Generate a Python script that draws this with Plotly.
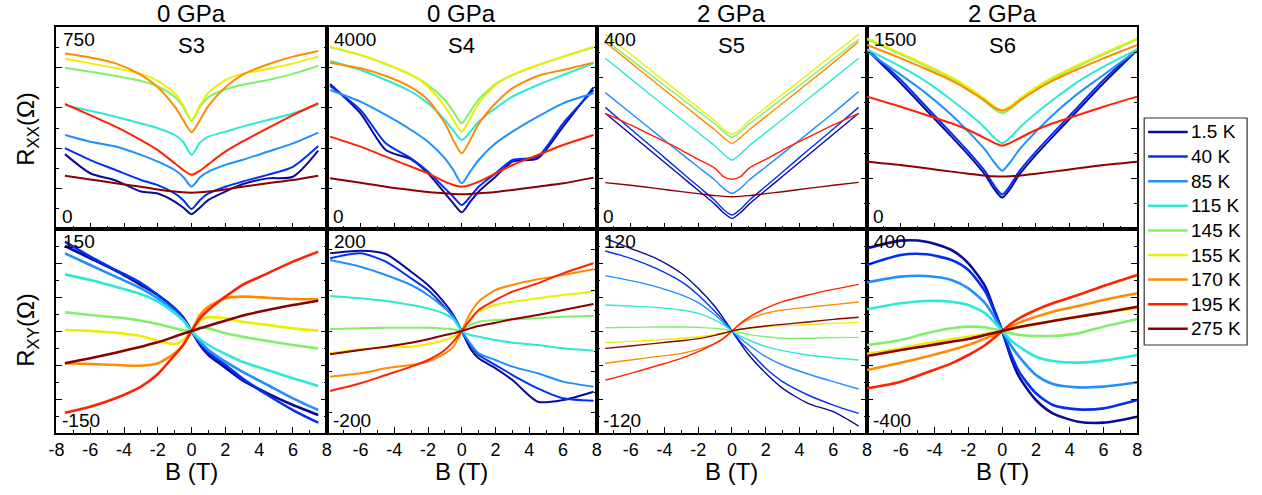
import plotly.graph_objects as go

# ---------------------------------------------------------------- data
TEMPS = ["1.5 K", "40 K", "85 K", "115 K", "145 K", "155 K", "170 K", "195 K", "275 K"]
COLORS = ["#0a0a9a", "#0030f5", "#1e90ff", "#2ee8d6", "#7ef06a",
          "#eeee00", "#ff8c00", "#ff2200", "#8b0000"]

PRESSURES = ["0 GPa", "0 GPa", "2 GPa", "2 GPa"]
SAMPLES = ["S3", "S4", "S5", "S6"]

# magnetic field grids (T)
B_S3 = [-7.5, -6, -4.5, -3, -2, -1, -0.5, 0, 0.5, 1, 2, 3, 4.5, 6, 7.5]
B_S4 = [-7.8, -6, -4.5, -3, -2, -1, -0.5, 0, 0.5, 1, 2, 3, 4.5, 6, 7.8]
B_S5 = [-7.5, -6, -4.5, -3, -2, -1, -0.5, 0, 0.5, 1, 2, 3, 4.5, 6, 7.5]
B_S6 = [-8, -6, -4.5, -3, -2, -1, -0.5, 0, 0.5, 1, 2, 3, 4.5, 6, 8]

# longitudinal resistance R_xx (Ohm), rows in TEMPS order
RXX_S3 = [
    [278, 207, 180, 139, 132, 102, 80, 55, 80, 108, 139, 166, 188, 194, 291],
    [300, 256, 219, 182, 163, 132, 108, 74, 108, 132, 157, 176, 201, 231, 308],
    [349, 324, 306, 275, 250, 219, 194, 157, 192, 213, 238, 256, 287, 318, 358],
    [460, 439, 417, 392, 374, 349, 324, 275, 321, 343, 361, 380, 405, 429, 463],
    [599, 584, 568, 550, 529, 491, 454, 402, 454, 489, 519, 535, 553, 576, 606],
    [632, 615, 597, 576, 550, 504, 460, 405, 460, 506, 553, 576, 594, 615, 640],
    [652, 637, 615, 572, 526, 454, 405, 359, 405, 457, 526, 572, 611, 640, 661],
    [464, 423, 380, 330, 293, 244, 219, 201, 217, 241, 287, 324, 374, 423, 467],
    [198, 184, 170, 157, 147, 139, 136, 135, 136, 139, 147, 157, 170, 182, 198],
]
RXX_S4 = [
    [2871, 2291, 1564, 1380, 1102, 706, 508, 330, 541, 739, 1036, 1333, 1399, 2027, 2805],
    [2832, 2357, 1696, 1399, 1135, 805, 640, 475, 640, 838, 1102, 1366, 1432, 2093, 2753],
    [2753, 2522, 2258, 1961, 1729, 1399, 1168, 904, 1135, 1366, 1696, 1927, 2225, 2489, 2687],
    [3327, 3149, 2951, 2720, 2489, 2159, 1947, 1762, 1927, 2126, 2390, 2621, 2852, 3050, 3281],
    [3598, 3446, 3268, 3050, 2852, 2555, 2324, 2093, 2324, 2568, 2872, 3050, 3241, 3413, 3598],
    [3611, 3446, 3268, 3050, 2819, 2423, 2159, 1927, 2192, 2489, 2852, 3050, 3248, 3413, 3611],
    [3294, 3182, 3030, 2806, 2555, 2093, 1762, 1498, 1762, 2079, 2489, 2786, 3030, 3149, 3294],
    [1829, 1630, 1432, 1234, 1102, 937, 871, 838, 871, 937, 1102, 1267, 1465, 1663, 1861],
    [1003, 918, 838, 772, 733, 706, 693, 687, 693, 706, 733, 772, 838, 904, 1017],
]
RXX_S5 = [
    [229.1, 187.5, 145.9, 104.3, 76.6, 48.8, 32.3, 21.1, 32.3, 48.8, 76.6, 104.3, 145.9, 187.5, 229.1],
    [240.9, 198.0, 155.8, 112.9, 84.5, 56.1, 38.9, 27.7, 38.9, 56.1, 84.5, 112.9, 155.8, 198.0, 240.9],
    [270.0, 229.7, 189.4, 149.2, 122.8, 96.4, 80.5, 70.6, 80.5, 96.4, 122.8, 149.2, 189.4, 229.7, 272.0],
    [338.0, 297.7, 257.4, 217.2, 190.8, 164.4, 148.5, 136.6, 148.5, 164.4, 190.8, 217.2, 257.4, 297.7, 338.0],
    [374.3, 336.0, 297.0, 258.8, 233.0, 207.3, 192.7, 181.5, 192.7, 207.3, 233.0, 258.8, 297.0, 336.0, 375.6],
    [385.5, 345.9, 306.3, 266.7, 240.3, 213.9, 197.4, 187.5, 197.4, 213.9, 240.3, 266.7, 306.3, 345.9, 385.5],
    [369.7, 329.4, 289.1, 248.9, 222.5, 196.1, 180.9, 169.6, 180.9, 196.1, 222.5, 248.9, 289.1, 329.4, 371.0],
    [229.1, 206.0, 181.5, 156.4, 138.0, 120.1, 103.6, 98.4, 103.6, 120.1, 138.0, 156.4, 181.5, 206.0, 229.1],
    [91.8, 86.5, 80.5, 73.9, 70.0, 66.0, 64.7, 64.0, 64.7, 66.0, 70.0, 73.9, 80.5, 86.5, 92.4],
]
RXX_S6 = [
    [1329, 1082, 884, 686, 550, 401, 302, 233, 302, 401, 550, 686, 884, 1082, 1329],
    [1334, 1106, 908, 710, 574, 426, 327, 257, 327, 426, 574, 710, 908, 1106, 1334],
    [1317, 1144, 1007, 847, 723, 587, 500, 433, 500, 587, 723, 847, 1007, 1144, 1329],
    [1334, 1205, 1094, 958, 859, 748, 681, 636, 681, 748, 859, 958, 1094, 1205, 1334],
    [1408, 1297, 1210, 1116, 1040, 946, 894, 859, 894, 946, 1040, 1116, 1210, 1297, 1408],
    [1416, 1304, 1218, 1126, 1052, 963, 913, 884, 913, 963, 1052, 1126, 1218, 1304, 1416],
    [1366, 1267, 1188, 1102, 1032, 951, 903, 879, 903, 951, 1032, 1102, 1188, 1267, 1366],
    [983, 908, 847, 785, 735, 673, 641, 619, 641, 673, 735, 785, 847, 908, 983],
    [500, 475, 451, 426, 411, 396, 391, 389, 391, 396, 411, 426, 451, 475, 500],
]

# Hall resistance R_xy (Ohm), rows in TEMPS order
RXY_S3 = [
    [125.0, 106.9, 88.7, 67.6, 52.9, 33.3, 20.1, 0, -20.6, -35.3, -53.9, -72.1, -91.7, -108.8, -123.5],
    [131.4, 109.3, 89.7, 70.6, 52.9, 32.8, 18.6, 0, -18.1, -31.9, -50.0, -69.6, -94.1, -116.2, -134.8],
    [114.2, 97.1, 79.9, 62.7, 48.0, 28.4, 16.2, 0, -15.7, -27.9, -45.1, -59.8, -79.4, -99.0, -116.2],
    [83.3, 75.0, 65.2, 54.4, 43.1, 26.0, 15.2, 0, -12.3, -20.6, -33.8, -45.1, -57.4, -69.6, -80.9],
    [27.5, 23.5, 20.1, 15.2, 10.3, 3.9, 1.5, 0, 4.9, 3.9, -3.4, -8.3, -14.7, -20.6, -25.5],
    [1.5, 0, -2.5, -7.4, -14.2, -19.1, -13.2, 0, 15.2, 20.1, 18.6, 13.7, 8.8, 3.9, 0.5],
    [-47.5, -48.5, -50.0, -51.0, -47.5, -32.8, -20.6, 0, 23.5, 35.8, 48.0, 50.5, 49.0, 47.1, 46.6],
    [-120.1, -111.3, -99.0, -81.9, -63.2, -35.3, -20.6, 0, 18.6, 30.9, 50.5, 67.6, 84.8, 102.0, 116.7],
    [-47.5, -40.2, -31.9, -23.0, -16.7, -8.3, -3.9, 0, 3.9, 7.8, 15.2, 22.5, 30.9, 38.2, 44.6],
]
RXY_S4 = [
    [152.3, 157.5, 151.0, 116.3, 90.2, 54.2, 31.4, 0, -34.0, -53.6, -73.2, -96.1, -138.6, -135.3, -119.0],
    [142.5, 152.3, 135.9, 103.3, 80.4, 46.4, 26.8, 0, -27.5, -47.1, -66.7, -86.3, -112.4, -132.0, -136.6],
    [139.2, 126.1, 109.8, 90.2, 70.6, 44.4, 28.1, 0, -24.2, -43.8, -56.9, -69.9, -83.0, -99.3, -109.2],
    [68.6, 64.1, 58.8, 51.0, 44.4, 33.3, 22.9, 0, -7.8, -11.1, -17.6, -22.9, -27.5, -34.0, -38.6],
    [3.9, 5.2, 6.5, 6.5, 6.5, 4.6, 3.3, 0, 11.8, 18.3, 21.6, 22.9, 24.8, 28.1, 29.4],
    [-43.8, -35.9, -32.0, -30.7, -25.5, -17.6, -11.1, 0, 24.8, 37.9, 51.0, 57.5, 64.1, 70.6, 77.1],
    [-89.5, -83.0, -73.2, -66.7, -60.1, -43.8, -30.7, 0, 34.6, 57.5, 80.4, 90.2, 101.3, 109.8, 120.9],
    [-117.6, -102.6, -86.3, -69.9, -56.9, -37.3, -20.9, 0, 21.6, 41.2, 60.8, 77.1, 93.5, 113.1, 132.7],
    [-45.8, -37.3, -30.7, -22.9, -16.3, -7.8, -4.6, 0, 5.2, 9.8, 16.3, 22.9, 31.4, 41.2, 52.9],
]
RXY_S5 = [
    [109.0, 97.3, 85.5, 67.9, 50.2, 28.6, 14.9, 0, -14.5, -28.2, -49.8, -67.5, -85.1, -94.9, -111.8],
    [94.1, 85.5, 73.7, 58.0, 42.4, 22.7, 12.2, 0, -12.6, -23.1, -43.9, -59.6, -75.3, -87.1, -96.9],
    [65.1, 59.2, 52.2, 42.4, 33.3, 18.8, 9.8, 0, -8.6, -16.5, -30.2, -40.0, -50.6, -59.6, -68.2],
    [30.6, 29.4, 27.8, 24.7, 20.8, 12.9, 7.1, 0, -5.9, -10.6, -18.4, -23.1, -28.2, -31.4, -34.1],
    [3.9, 4.3, 4.7, 4.7, 4.3, 3.1, 2.0, 0, -2.0, -3.9, -6.7, -8.6, -8.6, -7.8, -7.5],
    [-13.7, -12.2, -10.6, -8.6, -6.7, -3.9, -2.0, 0, 2.0, 3.1, 5.1, 6.3, 7.5, 9.0, 10.2],
    [-38.0, -34.1, -30.2, -26.3, -21.6, -14.5, -8.6, 0, 8.2, 13.7, 20.8, 24.7, 27.8, 31.0, 34.1],
    [-57.7, -49.8, -41.2, -32.2, -24.3, -14.5, -8.6, 0, 9.0, 16.1, 26.7, 34.5, 42.4, 49.0, 54.9],
    [-20.4, -17.6, -14.5, -11.4, -9.0, -5.1, -2.7, 0, 2.0, 3.5, 5.9, 7.8, 10.6, 13.7, 16.1],
]
RXY_S6 = [
    [324.2, 354.3, 350.3, 317.6, 265.4, 173.9, 88.9, 0, -100.7, -179.1, -270.6, -322.9, -355.6, -359.5, -336.0],
    [258.8, 298.0, 300.7, 278.4, 239.2, 154.2, 82.4, 0, -87.6, -159.5, -244.4, -290.2, -307.2, -303.3, -270.6],
    [190.9, 213.1, 215.7, 200.0, 167.3, 108.5, 58.8, 0, -54.9, -100.7, -172.6, -207.8, -220.9, -218.3, -201.3],
    [85.0, 108.5, 117.6, 115.0, 102.0, 69.3, 36.6, 0, -35.3, -61.4, -100.7, -117.6, -124.2, -116.3, -94.1],
    [-54.9, -35.3, -9.2, 10.5, 17.0, 14.4, 7.8, 0, -9.2, -15.7, -19.6, -19.6, -9.2, 17.0, 45.8],
    [-90.2, -68.0, -48.4, -32.7, -22.2, -11.8, -5.2, 0, 7.8, 14.4, 27.5, 40.5, 56.2, 71.9, 88.9],
    [-152.9, -124.2, -100.7, -74.5, -54.9, -28.8, -15.7, 0, 17.0, 32.7, 56.2, 75.8, 98.0, 121.6, 147.7],
    [-224.8, -198.7, -163.4, -126.8, -94.1, -54.9, -28.8, 0, 27.5, 49.7, 82.4, 108.5, 141.2, 176.5, 219.6],
    [-98.0, -74.5, -58.8, -41.8, -31.4, -15.7, -7.8, 0, 7.8, 15.7, 27.5, 39.2, 56.2, 71.9, 95.4],
]

# axis ranges and tick spacing per panel: (low, high, minor step)
RXX_AXES = [(0, 750, 75), (0, 4000, 400), (0, 400, 50), (0, 1500, 187.5)]
RXY_AXES = [(-150, 150, 25), (-200, 200, 40), (-120, 120, 20), (-400, 400, 200 / 3)]
RXX_LABELS = [("750", "0"), ("4000", "0"), ("400", "0"), ("1500", "0")]
RXY_LABELS = [("150", "-150"), ("200", "-200"), ("120", "-120"), ("400", "-400")]

# ---------------------------------------------------------------- layout
FONT = "Liberation Sans, Arial, sans-serif"
W, H = 1262, 495
LEFT, PANEL_W = 49, 273
ROW_TOP, ROW_MID, ROW_BOT = 27, 229, 433

B_GRIDS = [B_S3, B_S4, B_S5, B_S6]
RXX = [RXX_S3, RXX_S4, RXX_S5, RXX_S6]
RXY = [RXY_S3, RXY_S4, RXY_S5, RXY_S6]
RXX_WIDTH = [2.0, 2.0, 1.4, 2.0]
RXY_WIDTH = [2.6, 2.0, 1.4, 2.6]

fig = go.Figure()
layout = dict(
    width=W, height=H, margin=dict(l=0, r=0, t=0, b=0),
    paper_bgcolor="white", plot_bgcolor="white",
    font=dict(family=FONT, color="black"),
    showlegend=False,
)
annotations = []
shapes = []


def x_domain(col):
    return [(LEFT + PANEL_W * col) / W, (LEFT + PANEL_W * (col + 1)) / W]


for row in range(2):
    for col in range(4):
        n = row * 4 + col + 1
        xa = "xaxis" if n == 1 else f"xaxis{n}"
        ya = "yaxis" if n == 1 else f"yaxis{n}"
        xr = "x" if n == 1 else f"x{n}"
        yr = "y" if n == 1 else f"y{n}"

        if row == 0:
            ydom = [1 - ROW_MID / H, 1 - ROW_TOP / H]
            lo, hi, step = RXX_AXES[col]
            curves = RXX[col]
            width = RXX_WIDTH[col]
            top_lbl, bot_lbl = RXX_LABELS[col]
        else:
            ydom = [1 - ROW_BOT / H, 1 - ROW_MID / H]
            lo, hi, step = RXY_AXES[col]
            curves = RXY[col]
            width = RXY_WIDTH[col]
            top_lbl, bot_lbl = RXY_LABELS[col]

        xticks = list(range(-8, 9, 2)) if col == 0 else list(range(-6, 9, 2))
        layout[xa] = dict(
            domain=x_domain(col), anchor=yr, range=[-8, 8],
            showline=True, linecolor="black", linewidth=1.5, mirror=True,
            ticks="inside", ticklen=6, tickwidth=1, tickcolor="black",
            tickvals=list(range(-8, 9, 2)),
            ticktext=[str(v) if v in xticks else "" for v in range(-8, 9, 2)],
            showticklabels=(row == 1),
            tickfont=dict(size=18, family=FONT, color="black"),
            minor=dict(dtick=1, tick0=0, ticks="inside", ticklen=3, tickcolor="black"),
            showgrid=False, zeroline=False, fixedrange=True,
        )
        layout[ya] = dict(
            domain=ydom, anchor=xr, range=[lo, hi],
            showline=True, linecolor="black", linewidth=1.5, mirror="ticks",
            ticks="inside", ticklen=6, tickwidth=1, tickcolor="black",
            tick0=0, dtick=2 * step, showticklabels=False,
            minor=dict(dtick=step, tick0=0, ticks="inside", ticklen=3, tickcolor="black"),
            showgrid=False, zeroline=False, fixedrange=True,
        )

        for k, values in enumerate(curves):
            fig.add_trace(go.Scatter(
                x=B_GRIDS[col], y=values, xaxis=xr, yaxis=yr,
                mode="lines", name=TEMPS[k],
                line=dict(color=COLORS[k], width=width, shape="spline", smoothing=0.7),
                hoverinfo="skip",
            ))

        # range labels in the panel corners
        annotations.append(dict(
            text=top_lbl, xref=f"{xr} domain", yref=f"{yr} domain", x=0, y=1,
            xanchor="left", yanchor="top", xshift=5, yshift=0, showarrow=False,
            font=dict(size=19, family=FONT, color="black"),
        ))
        annotations.append(dict(
            text=bot_lbl, xref=f"{xr} domain", yref=f"{yr} domain", x=0, y=0,
            xanchor="left", yanchor="bottom", xshift=4, yshift=0, showarrow=False,
            font=dict(size=19, family=FONT, color="black"),
        ))

        if row == 0:
            annotations.append(dict(
                text=PRESSURES[col], xref=f"{xr} domain", yref="paper",
                x=0.5, y=1 - 14 / H, xanchor="center", yanchor="middle",
                showarrow=False, font=dict(size=24, family=FONT, color="black"),
            ))
            annotations.append(dict(
                text=SAMPLES[col], xref=f"{xr} domain", yref="paper",
                x=0.5, y=1 - 45 / H, xanchor="center", yanchor="middle",
                showarrow=False, font=dict(size=22, family=FONT, color="black"),
            ))
        else:
            annotations.append(dict(
                text="B (T)", xref=f"{xr} domain", yref="paper",
                x=0.5, y=1 - 471 / H, xanchor="center", yanchor="middle",
                showarrow=False, font=dict(size=24, family=FONT, color="black"),
            ))

# y-axis titles
annotations.append(dict(
    text="R<sub>XX</sub>(Ω)", xref="paper", yref="paper",
    x=19 / W, y=1 - 129 / H, xanchor="center", yanchor="middle",
    textangle=-90, showarrow=False, font=dict(size=24, family=FONT, color="black"),
))
annotations.append(dict(
    text="R<sub>XY</sub>(Ω)", xref="paper", yref="paper",
    x=19 / W, y=1 - 330 / H, xanchor="center", yanchor="middle",
    textangle=-90, showarrow=False, font=dict(size=24, family=FONT, color="black"),
))

# temperature key: framed box at the right with a line sample per series
KEY_L, KEY_R, KEY_T, KEY_B = 1148, 1252, 118, 345
KEY_ROW0, KEY_DY = 132, 24.6
shapes.append(dict(
    type="rect", xref="paper", yref="paper",
    x0=KEY_L / W, x1=KEY_R / W, y0=1 - KEY_B / H, y1=1 - KEY_T / H,
    line=dict(color="#333333", width=1.2), fillcolor="white", layer="above",
))
for k, label in enumerate(TEMPS):
    yk = 1 - (KEY_ROW0 + KEY_DY * k) / H
    shapes.append(dict(
        type="line", xref="paper", yref="paper",
        x0=(KEY_L + 4) / W, x1=(KEY_L + 44) / W, y0=yk, y1=yk,
        line=dict(color=COLORS[k], width=2.5), layer="above",
    ))
    annotations.append(dict(
        text=label, xref="paper", yref="paper", x=(KEY_L + 45) / W, y=yk,
        xanchor="left", yanchor="middle", showarrow=False,
        font=dict(size=19, family=FONT, color="black"),
    ))

layout["annotations"] = annotations
layout["shapes"] = shapes
fig.update_layout(**layout)
fig.write_html("out.html")
